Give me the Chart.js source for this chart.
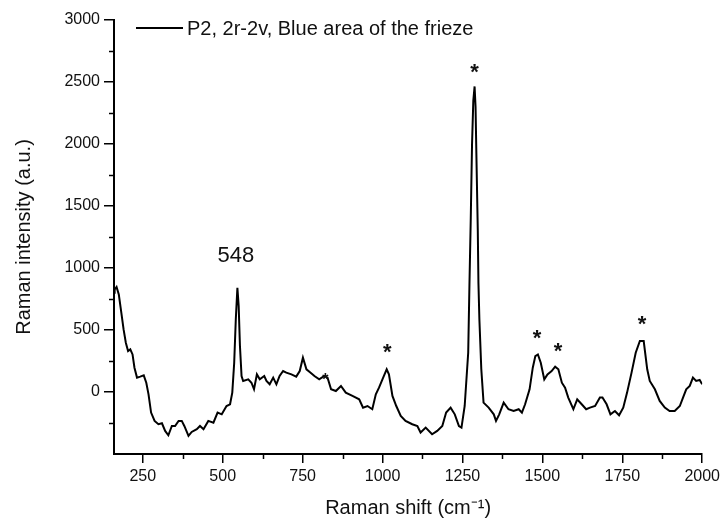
<!DOCTYPE html>
<html>
<head>
<meta charset="utf-8">
<script src="https://cdn.jsdelivr.net/npm/chart.js@4/dist/chart.umd.min.js"></script>
<style>
  html, body { margin: 0; padding: 0; background: #fff; }
  #wrap { width: 724px; height: 524px; }
</style>
</head>
<body>
<div id="wrap"><canvas id="c" width="724" height="524"></canvas></div>
<script>
// ---- data ----
const ramanShift = [160,162,168,175,183,190,197,204,211,218,224,232,242,253,261,268,276,287,299,310,320,330,341,351,362,372,380,393,403,419,429,440,455,471,484,497,512,523,530,536,541,546,550,554,559,564,580,590,598,607,616,630,637,647,658,668,678,689,699,715,730,741,751,762,775,787,802,818,828,839,854,870,885,906,927,939,953,968,979,989,1002,1013,1020,1031,1043,1057,1072,1093,1109,1119,1135,1155,1171,1187,1199,1213,1226,1239,1247,1257,1268,1272,1276,1280,1284,1288,1291,1293,1298,1300,1303,1309,1316,1332,1348,1355,1365,1379,1394,1410,1426,1436,1446,1460,1470,1478,1486,1495,1506,1516,1529,1540,1550,1561,1571,1581,1597,1609,1623,1637,1649,1665,1680,1688,1701,1713,1727,1740,1753,1765,1779,1792,1805,1817,1828,1836,1852,1867,1883,1898,1914,1930,1940,1950,1961,1971,1981,1992,2000];
const intensity = [800,827,848,787,639,505,397,330,344,303,196,116,124,134,75,-19,-166,-233,-260,-252,-314,-349,-274,-274,-233,-233,-274,-354,-322,-300,-274,-300,-233,-247,-166,-180,-113,-99,-5,236,585,840,693,371,129,89,102,75,22,142,102,129,89,62,116,62,129,169,156,142,124,169,277,183,156,129,102,129,116,22,8,49,-5,-32,-59,-126,-113,-139,-19,35,116,183,142,-32,-113,-193,-233,-260,-274,-327,-287,-341,-314,-274,-166,-126,-180,-274,-287,-113,317,881,1400,2000,2350,2464,2300,2000,1300,881,585,183,-86,-126,-180,-233,-180,-86,-139,-153,-139,-166,-99,22,196,290,303,236,102,142,169,204,183,75,35,-45,-139,-59,-99,-139,-126,-113,-45,-45,-99,-180,-153,-188,-126,-5,156,317,411,411,183,89,22,-72,-126,-153,-153,-113,-45,22,49,116,89,97,62];
const seriesLabel = 'P2, 2r-2v, Blue area of the frieze';
const xTickValues = [250,500,750,1000,1250,1500,1750,2000];
const xMinorTicks = [375,625,875,1125,1375,1625,1875];
const yTickValues = [0,500,1000,1500,2000,2500,3000];
const yMinorTicks = [-250,250,750,1250,1750,2250,2750];
// annotations (data coordinates)
const starX = [1288,1015,1483,1549,1812,821];
const starY = [2630,366,483,376,591,129];
const starSize = [22,22,22,22,22,16];
const peakLabelText = '548';
const peakLabelX = 541;
const peakLabelY = 1100;

const FONT = '"Liberation Sans", Arial, sans-serif';
const INK = '#111';

const extras = {
  id: 'extras',
  afterDraw(chart) {
    const ctx = chart.ctx;
    const xs = chart.scales.x, ys = chart.scales.y;
    const area = chart.chartArea;
    ctx.save();
    ctx.strokeStyle = '#000';
    ctx.lineWidth = 1.5;
    // minor ticks
    xMinorTicks.forEach(v => {
      const px = Math.round(xs.getPixelForValue(v)) + 0.5;
      ctx.beginPath(); ctx.moveTo(px, area.bottom); ctx.lineTo(px, area.bottom + 5); ctx.stroke();
    });
    yMinorTicks.forEach(v => {
      const py = Math.round(ys.getPixelForValue(v)) + 0.5;
      ctx.beginPath(); ctx.moveTo(area.left, py); ctx.lineTo(area.left - 5, py); ctx.stroke();
    });
    // legend
    const ly = 28;
    ctx.lineWidth = 2;
    ctx.beginPath(); ctx.moveTo(136, ly); ctx.lineTo(183, ly); ctx.stroke();
    ctx.fillStyle = INK;
    ctx.font = '20px ' + FONT;
    ctx.textAlign = 'left';
    ctx.textBaseline = 'middle';
    ctx.fillText(seriesLabel, 187, ly + 1);
    // peak label
    ctx.font = '22px ' + FONT;
    ctx.textAlign = 'center';
    ctx.fillText(peakLabelText, xs.getPixelForValue(peakLabelX), ys.getPixelForValue(peakLabelY));
    // asterisks
    starX.forEach((v, i) => {
      ctx.font = 'bold ' + starSize[i] + 'px ' + FONT;
      ctx.fillText('*', xs.getPixelForValue(v), ys.getPixelForValue(starY[i]) + starSize[i] * 0.3);
    });
    ctx.restore();
  }
};

new Chart(document.getElementById('c'), {
  type: 'line',
  data: {
    datasets: [{
      label: seriesLabel,
      data: ramanShift.map((x, i) => ({ x: x, y: intensity[i] })),
      borderColor: '#000',
      borderWidth: 2,
      pointRadius: 0,
      tension: 0,
      fill: false
    }]
  },
  options: {
    responsive: false,
    animation: false,
    devicePixelRatio: 1,
    layout: { padding: { left: 0, right: 20, top: 20, bottom: 0 } },
    plugins: { legend: { display: false }, tooltip: { enabled: false } },
    scales: {
      x: {
        type: 'linear',
        min: 160,
        max: 2000,
        afterBuildTicks: s => { s.ticks = xTickValues.map(v => ({ value: v })); },
        afterFit: s => { s.height = 70; },
        border: { display: true, color: '#000', width: 2 },
        grid: { display: true, drawOnChartArea: false, drawTicks: true, tickLength: 9, color: '#000', lineWidth: 1.5 },
        ticks: { color: INK, font: { size: 16, family: FONT }, padding: 4, maxRotation: 0, autoSkip: false, callback: v => String(v) },
        title: { display: true, text: 'Raman shift (cm\u207B\u00B9)', color: INK, font: { size: 20, family: FONT }, padding: { top: 0, bottom: 4 } }
      },
      y: {
        min: -500,
        max: 3000,
        afterBuildTicks: s => { s.ticks = yTickValues.map(v => ({ value: v })); },
        afterFit: s => { s.width = 114; },
        border: { display: true, color: '#000', width: 2 },
        grid: { display: true, drawOnChartArea: false, drawTicks: true, tickLength: 10, color: '#000', lineWidth: 1.5 },
        ticks: { color: INK, font: { size: 16, family: FONT }, padding: 4, autoSkip: false, callback: v => String(v) },
        title: { display: true, text: 'Raman intensity (a.u.)', color: INK, font: { size: 20, family: FONT }, padding: { top: 12, bottom: 0 } }
      }
    }
  },
  plugins: [extras]
});
</script>
</body>
</html>
